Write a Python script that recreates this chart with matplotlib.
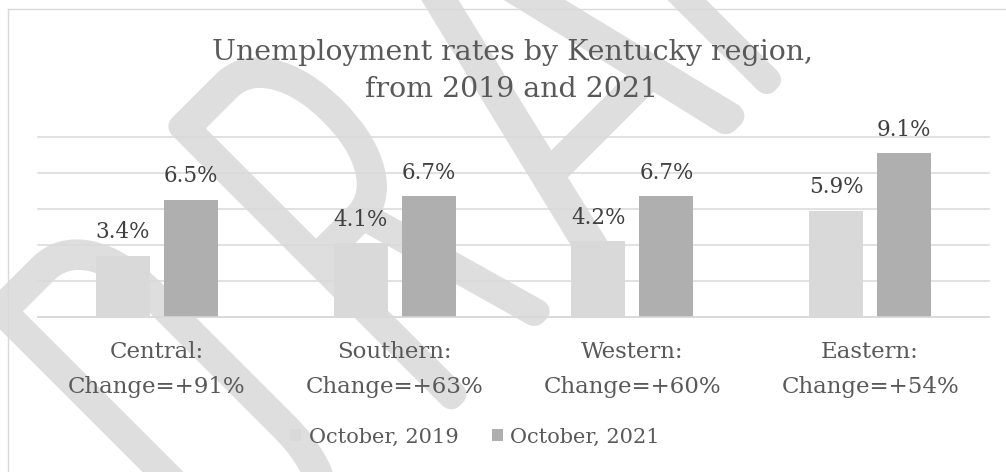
import numpy as np
import matplotlib
matplotlib.use("Agg")
import matplotlib.pyplot as plt
import matplotlib.colors as mcolors
from matplotlib import font_manager as fm
from matplotlib.textpath import TextPath
from matplotlib.patheffects import AbstractPathEffect
from matplotlib.transforms import Affine2D
from matplotlib.lines import Line2D

# ---- data -------------------------------------------------------------
regions = ["Central", "Southern", "Western", "Eastern"]
changes = ["+91%", "+63%", "+60%", "+54%"]
rate_2019 = [3.4, 4.1, 4.2, 5.9]
rate_2021 = [6.5, 6.7, 6.7, 9.1]
series = ["October, 2019", "October, 2021"]
title = "Unemployment rates by Kentucky region,\nfrom 2019 and 2021"
watermark = "DRAFT"

# ---- styling ----------------------------------------------------------
W, H = 1006, 472
C_2019 = "#d9d9d9"
C_2021 = "#afafaf"
C_GRID = "#d9d9d9"
C_TEXT = "#595959"
C_LABEL = "#404040"
C_MARK = "#dedede"

plt.rcParams["font.family"] = ["DejaVu Serif"]

fig = plt.figure(figsize=(W / 100, H / 100), dpi=100)
fig.patch.set_facecolor("white")


# ---- watermark --------------------------------------------------------
class Condensed(AbstractPathEffect):
    """Squeeze glyphs along the writing direction, then grow (offset > 0)
    or trim (offset < 0) their outline by a fixed number of pixels."""

    def __init__(self, sx, offset_px, color, paper="white"):
        super().__init__()
        self._sx = sx
        self._off = offset_px
        self._rgba = mcolors.to_rgba(color)
        self._paper = mcolors.to_rgba(paper)

    def draw_path(self, renderer, gc, tpath, affine, rgbFace=None):
        tr = Affine2D().scale(self._sx, 1.0) + affine
        gc0 = renderer.new_gc()
        gc0.copy_properties(gc)
        gc0.set_joinstyle("round")
        gc0.set_capstyle("round")
        if self._off > 0:
            gc0.set_foreground(self._rgba)
            gc0.set_linewidth(2 * self._off * 72 / 100)
            renderer.draw_path(gc0, tpath, tr, self._rgba)
        else:
            gc0.set_linewidth(0)
            renderer.draw_path(gc0, tpath, tr, self._rgba)
            gc0.set_foreground(self._paper)
            gc0.set_linewidth(-2 * self._off * 72 / 100)
            renderer.draw_path(gc0, tpath, tr, None)
        gc0.restore()


def light_sans():
    """Pick a thin static sans face, preferring condensed designs."""
    prefs = ["Barlow Condensed", "Roboto Condensed", "Fira Sans Condensed",
             "IBM Plex Sans Condensed", "Encode Sans Condensed",
             "Saira Condensed", "Barlow Semi Condensed", "Barlow", "Lato",
             "Roboto", "Fira Sans", "Work Sans", "Source Sans Pro",
             "Open Sans", "Inter", "Noto Sans", "DejaVu Sans"]

    def weight(f):
        w = f.weight
        return fm.weight_dict.get(w, 400) if isinstance(w, str) else int(w)

    cands = []
    for f in fm.fontManager.ttflist:
        if f.style != "normal" or "[" in f.fname:
            continue
        low = f.name.lower()
        if "mono" in low or "italic" in low:
            continue
        for i, p in enumerate(prefs):
            if f.name == p or f.name.startswith(p + " "):
                w = weight(f)
                cands.append((w > 250, i, w, f.fname))
                break
    if not cands:
        return fm.findfont("DejaVu Sans")
    return min(cands)[3]


wm_prop = fm.FontProperties(fname=light_sans())
cap_v, base_v = -205.0, -612.0   # cap line / baseline across the diagonal
band = 30.0                      # stroke thickness of the lettering, px
wm_left = [-233, 26, 225, 472, 640]
wm_right = [-86, 172, 448, 600, 790]

cap = TextPath((0, 0), "D", size=1, prop=wm_prop).get_extents().y1
stem = TextPath((0, 0), "I", size=1, prop=wm_prop).get_extents().width
offset = 0.0
for _ in range(8):
    em_px = (cap_v - base_v - 2 * offset) / cap
    offset = float(np.clip((band - 0.85 * stem * em_px) / 2, -12, 15))
em_px = (cap_v - base_v - 2 * offset) / cap
wm_font = wm_prop.copy()
wm_font.set_size(em_px * 72 / 100)
r2 = np.sqrt(2.0)
for ch, uL, uR in zip(watermark, wm_left, wm_right):
    ext = TextPath((0, 0), ch, size=1, prop=wm_prop).get_extents()
    sx = (uR - uL - 2 * offset) / ((ext.x1 - ext.x0) * em_px)
    u0 = uL + offset - sx * ext.x0 * em_px
    v0 = base_v + offset
    x_img = (u0 - v0) / r2
    y_img = (-v0 - u0) / r2
    fig.text(x_img / W, 1 - y_img / H, ch, rotation=45, rotation_mode="anchor",
             ha="left", va="baseline", fontproperties=wm_font, color=C_MARK,
             zorder=-10, path_effects=[Condensed(sx, offset, C_MARK)])

# chart-area border (top and left edges)
fig.add_artist(Line2D([8 / W, 8 / W], [1 - 9 / H, 0], transform=fig.transFigure,
                      color=C_GRID, lw=1.0))
fig.add_artist(Line2D([8 / W, 1], [1 - 9 / H, 1 - 9 / H], transform=fig.transFigure,
                      color=C_GRID, lw=1.0))

# ---- bars -------------------------------------------------------------
ax = fig.add_axes([38 / W, 1 - 317 / H, 951 / W, 180 / H])
ax.patch.set_visible(False)
x = np.arange(len(regions))
bw, off = 0.227, 0.143
b1 = ax.bar(x - off, rate_2019, bw, color=C_2019, zorder=2)
b2 = ax.bar(x + off, rate_2021, bw, color=C_2021, zorder=2)

ax.set_xlim(-0.5, len(regions) - 0.5)
ax.set_ylim(0, 10)
ax.set_yticks(np.arange(0, 11, 2))
ax.yaxis.grid(True, color=C_GRID, lw=1.1)
for gl in ax.get_ygridlines():
    gl.set_clip_on(False)
ax.set_axisbelow(True)
ax.tick_params(axis="y", left=False, labelleft=False)
for s in ("top", "left", "right"):
    ax.spines[s].set_visible(False)
ax.spines["bottom"].set_color(C_GRID)
ax.spines["bottom"].set_linewidth(1.1)

ax.set_xticks(x, [f"{r}:\nChange={c}" for r, c in zip(regions, changes)])
ax.tick_params(axis="x", length=0, pad=17, labelsize=16.5, labelcolor=C_TEXT)
for lab in ax.get_xticklabels():
    lab.set_linespacing(1.78)

for bars, vals in ((b1, rate_2019), (b2, rate_2021)):
    for rect, v in zip(bars, vals):
        ax.annotate(f"{v:.1f}%", (rect.get_x() + rect.get_width() / 2, v),
                    xytext=(0, 12.6), textcoords="offset points",
                    ha="center", va="baseline", fontsize=15.5, color=C_LABEL)

# ---- title and legend -------------------------------------------------
fig.text(512 / W, 1 - 38.5 / H, title, ha="center", va="top", fontsize=20.5,
         color=C_TEXT, linespacing=1.5)

fig.legend([b1, b2], series, loc="center", bbox_to_anchor=(475 / W, 1 - 437 / H),
           ncol=2, frameon=False, fontsize=15, labelcolor=C_TEXT,
           handlelength=0.55, handleheight=0.55, handletextpad=0.35,
           columnspacing=1.6)

fig.savefig("out.png", dpi=100)
